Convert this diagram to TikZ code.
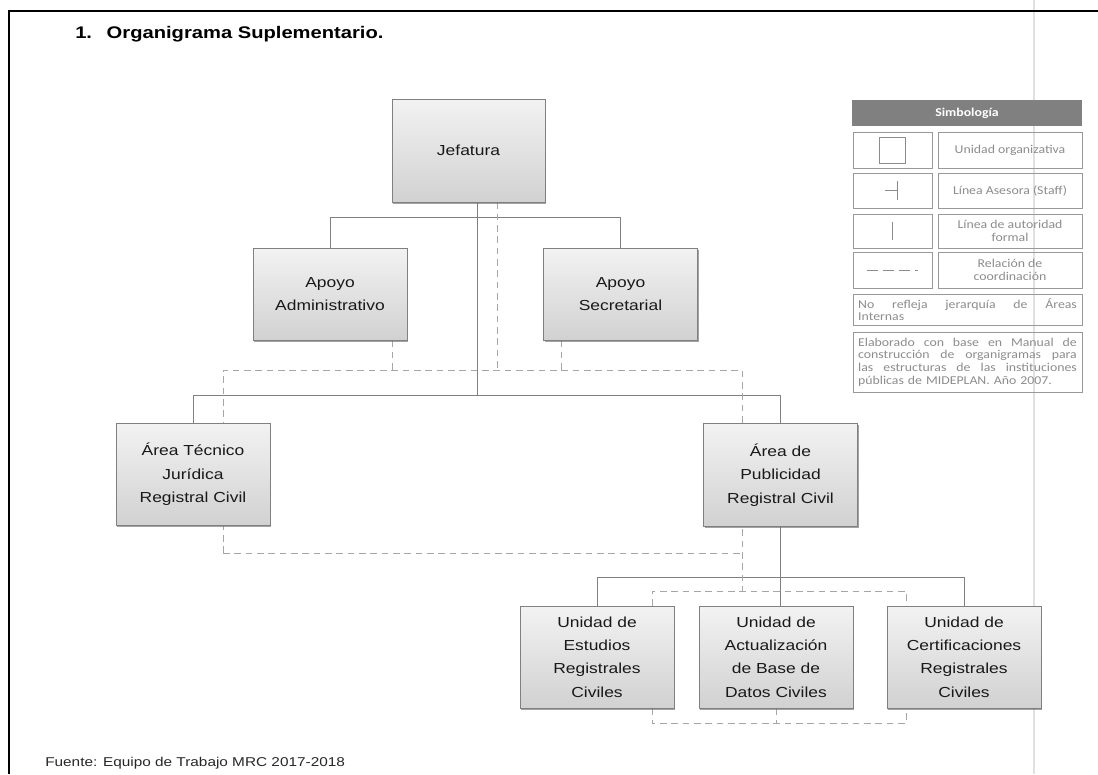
\documentclass[tikz,border=0pt]{standalone}
\usepackage{fontspec}
\setmainfont{Liberation Sans}
\newfontfamily\boxfont[FakeStretch=1.2]{Liberation Sans}
\newfontfamily\legfont[FakeStretch=1.15]{Carlito}
\usetikzlibrary{shadows}
\pgfdeclarelayer{bg}
\pgfsetlayers{bg,main}
\begin{document}
\begin{tikzpicture}[x=0.75pt,y=-0.75pt,
 unit/.style={draw=black!50, line width=0.6pt, top color=black!5, bottom color=black!18,
   minimum width=115.5pt, minimum height=77pt, align=center, inner sep=2pt,
   font=\boxfont\fontsize{10.9}{17.5}\selectfont, text=black!90,
   drop shadow={shadow xshift=0.8pt, shadow yshift=-1.2pt, opacity=0.6, fill=black!60}},
 apoyo/.style={unit, minimum height=69pt},
 auth/.style={draw=black!50, line width=0.6pt},
 coord/.style={draw=black!35, line width=0.6pt, dash pattern=on 5pt off 3.5pt},
 legbox/.style={draw=black!40, line width=0.6pt, align=center, inner sep=1pt,
   text=black!45, font=\legfont\fontsize{9}{9.6}\selectfont},
 legsym/.style={draw=black!45, line width=0.6pt},
]
\useasboundingbox (0,0) rectangle (1098,774);

% title and source
\node[anchor=base west, inner sep=0, font=\boxfont\bfseries\fontsize{12.6}{15}\selectfont] (title) at (75,39) {1.\hspace{11pt}Organigrama Suplementario.};
\node[anchor=base west, inner sep=0, font=\boxfont\fontsize{9.6}{11}\selectfont, text=black!85] (src) at (45,766) {Fuente: Equipo de Trabajo MRC 2017-2018};

% organisational units
\node[unit, minimum width=114.75pt, minimum height=77.25pt] (jef) at (468.5,150.5) {Jefatura};
\node[apoyo] (adm) at (330,294) {Apoyo\\Administrativo};
\node[apoyo] (sec) at (620.5,294) {Apoyo\\Secretarial};
\node[unit] (tec) at (193,474.5) {Área Técnico\\Jurídica\\Registral Civil};
\node[unit] (pub) at (780.5,475) {Área de\\Publicidad\\Registral Civil};
\node[unit, minimum height=76.5pt] (est) at (597,657) {Unidad de\\Estudios\\Registrales\\Civiles};
\node[unit, minimum height=76.5pt] (act) at (776,657) {Unidad de\\Actualización\\de Base de\\Datos Civiles};
\node[unit, minimum height=76.5pt] (cer) at (964,657) {Unidad de\\Certificaciones\\Registrales\\Civiles};

% legend
\node[fill=black!50, minimum width=172.5pt, minimum height=19.5pt, inner sep=0, text=white,
  font=\legfont\bfseries\fontsize{9}{10}\selectfont] (hdr) at (967,113) {Simbología};
\node[legbox, minimum width=59.25pt, minimum height=27pt] (l1) at (892.5,150) {};
\node[legbox, minimum width=108pt, minimum height=27pt] (r1) at (1010,150) {Unidad organizativa};
\node[legbox, minimum width=59.25pt, minimum height=26.25pt] (l2) at (892.5,190.5) {};
\node[legbox, minimum width=108pt, minimum height=26.25pt] (r2) at (1010,190.5) {Línea Asesora (Staff)};
\node[legbox, minimum width=59.25pt, minimum height=25.5pt] (l3) at (892.5,231) {};
\node[legbox, minimum width=108pt, minimum height=25.5pt] (r3) at (1010,231) {Línea de autoridad\\formal};
\node[legbox, minimum width=59.25pt, minimum height=27pt] (l4) at (892.5,270) {};
\node[legbox, minimum width=108pt, minimum height=27pt] (r4) at (1010,270) {Relación de\\coordinación};
\node[legbox, minimum width=171.75pt, minimum height=23.25pt, text width=164pt, align=left, inner sep=3pt] (r5) at (967.5,309.5)
  {\makebox[164pt]{No\hfill refleja\hfill jerarquía\hfill de\hfill Áreas}\\Internas};
\node[legbox, minimum width=171.75pt, minimum height=45pt, text width=164pt, align=left, inner sep=3pt] (r6) at (967.5,362)
  {\makebox[164pt]{Elaborado\hfill con\hfill base\hfill en\hfill Manual\hfill de}\\
   \makebox[164pt]{construcción\hfill de\hfill organigramas\hfill para}\\
   \makebox[164pt]{las\hfill estructuras\hfill de\hfill las\hfill instituciones}\\
   públicas de MIDEPLAN. Año 2007.};
% legend symbols
\node[legsym, minimum size=19.5pt, inner sep=0] (sq) at (l1.center) {};
\draw[legsym] ([xshift=-6pt]l2.center) -- ([xshift=4pt]l2.center);
\draw[legsym] ([xshift=4pt,yshift=7pt]l2.center) -- ([xshift=4pt,yshift=-7pt]l2.center);
\draw[legsym] ([yshift=7pt]l3.center) -- ([yshift=-7pt]l3.center);
\draw[legsym, dash pattern=on 8pt off 4pt] ([xshift=-19pt]l4.center) -- ([xshift=19pt]l4.center);

\begin{pgfonlayer}{bg}
  % page frame and fold
  \draw[black!12, line width=0.8pt] (1034,0) -- (1034,774);
  \draw[line width=1.5pt] (9,774) -- (9,11) -- (1098,11);
  % lines of formal authority
  \coordinate (t1) at (477,396);
  \draw[auth] (jef.south -| t1) -- (t1);
  \draw[auth] (adm.north) -- ++(0,-30) -| (sec.north);
  \draw[auth] (tec.north) -- ++(0,-27) -| (pub.north);
  \draw[auth] (pub.south) -- (pub.south |- act.north);
  \draw[auth] (est.north) -- ++(0,-28) -| (cer.north);
  % coordination
  \coordinate (a1) at (223,370);
  \coordinate (a2) at (742,370);
  \coordinate (a3) at (223,553);
  \coordinate (a4) at (742,553);
  \coordinate (a5) at (742,591);
  \coordinate (a6) at (652,591);
  \coordinate (a7) at (906,591);
  \coordinate (a8) at (652,723);
  \coordinate (a9) at (906,723);
  \coordinate (dj) at (497,370);
  \coordinate (da) at ([xshift=46.5pt]adm.south);
  \coordinate (ds) at ([xshift=-44.6pt]sec.south);
  \draw[coord] (jef.south -| dj) -- (dj);
  \draw[coord] (da) -- (da |- a1);
  \draw[coord] (ds) -- (ds |- a1);
  \draw[coord] (a3) -- (a1) -- (a2) -- (a5);
  \draw[coord] (a3) -- (a4);
  \draw[coord] (est.north -| a6) -- (a6) -- (a7) -- (cer.north -| a7);
  \draw[coord] (est.south -| a8) -- (a8) -- (a9) -- (cer.south -| a9);
  \draw[coord] (act.south) -- (act.south |- a8);
\end{pgfonlayer}
\end{tikzpicture}
\end{document}
